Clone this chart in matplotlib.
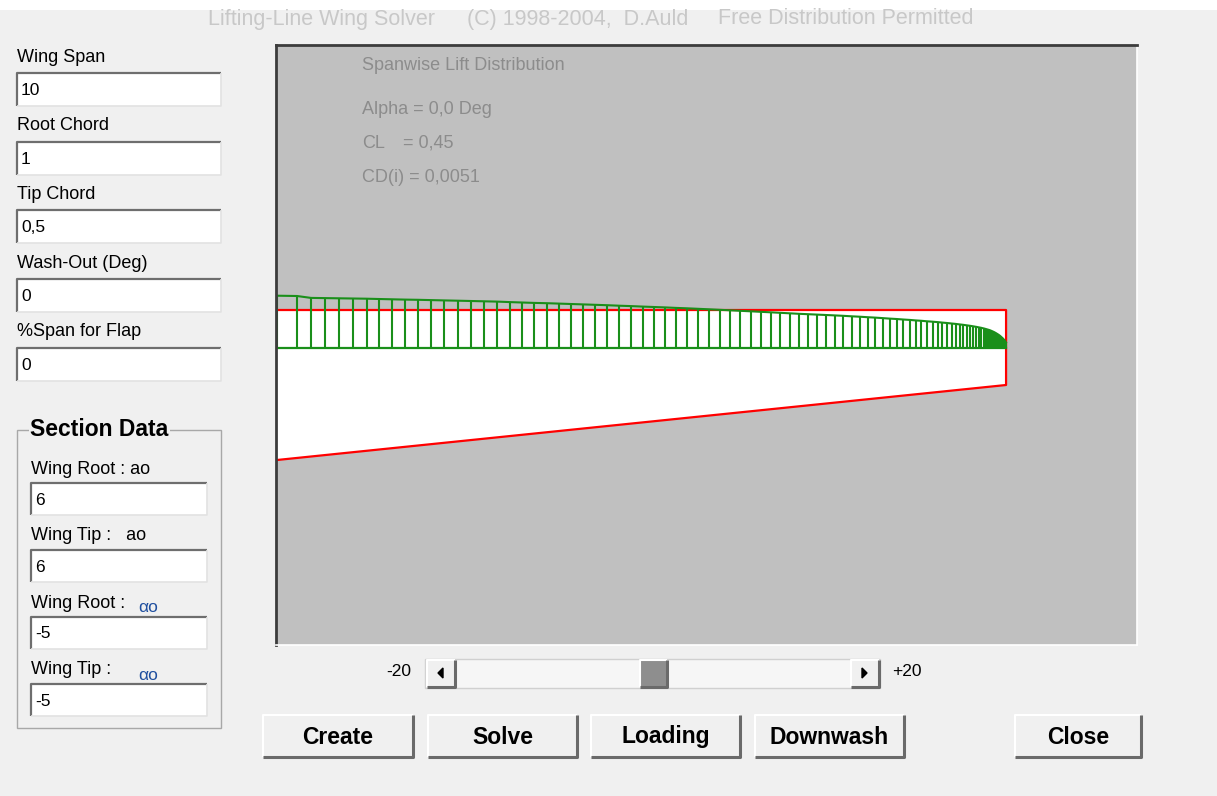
import numpy as np
import matplotlib.pyplot as plt
from matplotlib.patches import Rectangle, Polygon

plt.rcParams['font.family'] = ['Liberation Sans', 'DejaVu Sans']

W, H = 1217, 796  # window size in pixels

# =============================================================================
# DATA
# =============================================================================
half_span = 5.0      # m (wing span 10)
root_chord = 1.0
tip_chord = 0.5

# spanwise stations, m from root
stations = [0.000, 0.137, 0.233, 0.329, 0.425, 0.521, 0.614, 0.700, 0.789, 0.878,
            0.967, 1.056, 1.145, 1.241, 1.331, 1.420, 1.509, 1.598, 1.680, 1.763,
            1.852, 1.934, 2.016, 2.099, 2.181, 2.263, 2.346, 2.428, 2.510, 2.586,
            2.661, 2.737, 2.812, 2.888, 2.963, 3.035, 3.107, 3.176, 3.248, 3.316,
            3.385, 3.450, 3.515, 3.580, 3.642, 3.704, 3.765, 3.824, 3.882, 3.940,
            3.995, 4.050, 4.101, 4.153, 4.201, 4.249, 4.294, 4.338, 4.379, 4.420,
            4.458, 4.496, 4.530, 4.564, 4.595, 4.626, 4.654, 4.681, 4.705, 4.729,
            4.753, 4.774, 4.794, 4.811, 4.829, 4.846, 4.859, 4.873, 4.887, 4.897,
            4.908, 4.918, 4.928, 4.938, 4.949, 4.959, 4.969, 4.979, 4.990, 5.000]

# section lift at each station (display units)
lift = [51.8, 51.5, 49.6, 49.4, 49.2, 49.0, 48.8, 48.5, 48.2, 47.9,
        47.7, 47.4, 47.1, 46.8, 46.5, 46.2, 45.9, 45.4, 45.0, 44.6,
        44.3, 43.9, 43.5, 43.1, 42.7, 42.3, 41.8, 41.4, 40.9, 40.5,
        40.1, 39.6, 39.2, 38.7, 38.2, 37.7, 37.2, 36.7, 36.2, 35.7,
        35.2, 34.7, 34.2, 33.7, 33.3, 32.9, 32.5, 32.1, 31.7, 31.2,
        30.8, 30.3, 29.9, 29.4, 28.9, 28.5, 28.0, 27.6, 27.1, 26.7,
        26.2, 25.8, 25.4, 24.9, 24.5, 24.0, 23.6, 23.1, 22.7, 22.2,
        21.7, 21.2, 20.7, 20.2, 19.7, 19.1, 18.6, 18.0, 17.4, 16.8,
        16.1, 15.4, 14.6, 13.7, 12.7, 11.6, 10.3, 8.9, 7.2, 5.0]

info_lines = ["Alpha = 0,0 Deg", "CL", "CD(i) = 0,0051"]
cl_value = "= 0,45"

field_labels = ["Wing Span", "Root Chord", "Tip Chord", "Wash-Out (Deg)", "%Span for Flap"]
field_values = ["10", "1", "0,5", "0", "0"]
section_labels = ["Wing Root : ao", "Wing Tip :   ao", "Wing Root :", "Wing Tip :"]
section_values = ["6", "6", "-5", "-5"]
button_labels = ["Create", "Solve", "Loading", "Downwash", "Close"]

lift_scale = 1.0 / 150.0          # chord units per lift unit
baseline = 0.25 * root_chord      # lift drawn from root quarter chord

# =============================================================================
# FIGURE
# =============================================================================
fig = plt.figure(figsize=(W / 100, H / 100), dpi=100, facecolor='#f0f0f0')

ui = fig.add_axes([0, 0, 1, 1], zorder=0)
ui.set_facecolor('none')
ui.axis('off')


def ftext(x, y, s, **kw):
    kw.setdefault('va', 'center')
    kw.setdefault('fontsize', 13)
    return fig.text(x / W, 1 - y / H, s, **kw)


def edit_box(x0, y0, x1, y1, value):
    ui.add_patch(Rectangle((x0, y0), x1 - x0, y1 - y0, facecolor='white', edgecolor='none'))
    ui.plot([x0, x0, x1], [y1, y0, y0], color='#6e6e6e', lw=1.6, solid_capstyle='butt')
    ui.plot([x0, x1, x1], [y1, y1, y0], color='#e2e2e2', lw=1.2, solid_capstyle='butt')
    ftext(x0 + 4, (y0 + y1) / 2 + 1, value, fontsize=12.5)


def raised(x0, y0, x1, y1, face='#f0f0f0'):
    ui.add_patch(Rectangle((x0, y0), x1 - x0, y1 - y0, facecolor=face, edgecolor='none'))
    ui.plot([x0, x0, x1], [y1, y0, y0], color='white', lw=1.5, solid_capstyle='butt')
    ui.plot([x0, x1, x1], [y1, y1, y0], color='#6a6a6a', lw=2.2, solid_capstyle='butt')


# title strip
ui.add_patch(Rectangle((0, 0), W, 10, facecolor='white', edgecolor='none'))
ftext(208, 19, "Lifting-Line Wing Solver", color='#c8c8c8', fontsize=15.5)
ftext(467, 19, "(C) 1998-2004,  D.Auld", color='#c8c8c8', fontsize=15.5)
ftext(718, 19, "Free Distribution Permitted", color='#c8c8c8', fontsize=15.5)

# wing input fields
for i, (lab, val) in enumerate(zip(field_labels, field_values)):
    y = 57 + 68.7 * i
    ftext(17, y, lab)
    edit_box(17, y + 16, 221, y + 49, val)

# section data group
ui.add_patch(Rectangle((17, 430), 204, 298, facecolor='none', edgecolor='#a8a8a8', lw=1))
ftext(30, 430, "Section Data", fontweight='bold', fontsize=16.5,
      bbox=dict(facecolor='#f0f0f0', edgecolor='none', pad=1))
for i, (lab, val) in enumerate(zip(section_labels, section_values)):
    y = 469 + 67 * i
    ftext(31, y, lab)
    if i >= 2:
        ftext(138, y + 5, "\u03b1o", color='#1f4f9f', fontsize=12.5)
    edit_box(31, y + 14, 207, y + 46, val)

# slider
ftext(411, 672, "-20", ha='right', fontsize=12.5)
ftext(892, 672, "+20", ha='left', fontsize=12.5)
ui.add_patch(Rectangle((425, 659), 455, 29, facecolor='#f6f6f6', edgecolor='#d0d0d0', lw=1))
raised(427, 660, 455, 687)
raised(851, 660, 879, 687)
raised(640, 660, 667, 687, face='#8e8e8e')
ui.add_patch(Polygon([(438, 673), (443, 668), (443, 678)], closed=True, color='black'))
ui.add_patch(Polygon([(867, 673), (862, 668), (862, 678)], closed=True, color='black'))

# buttons
button_x = [(263, 413), (428, 577), (591, 740), (755, 904), (1015, 1141)]
for lab, (x0, x1) in zip(button_labels, button_x):
    raised(x0, 715, x1, 757)
    ftext((x0 + x1) / 2, 737, lab, ha='center', fontweight='bold', fontsize=16.5)

ui.set_xlim(0, W)
ui.set_ylim(H, 0)

# =============================================================================
# PLOT PANEL
# =============================================================================
ax = fig.add_axes([276 / W, 1 - 645 / H, (1137 - 276) / W, 600 / H], zorder=1)
ax.set_facecolor('#c0c0c0')
ax.set_xlim(-0.007, 5.898)
ax.set_ylim(2.2333, -1.7667)
ax.set_xticks([])
ax.set_yticks([])
for side, col, lw in [('left', '#3c3c3c', 2.0), ('top', '#3c3c3c', 2.0),
                      ('right', 'white', 1.2), ('bottom', 'white', 1.2)]:
    ax.spines[side].set_color(col)
    ax.spines[side].set_linewidth(lw)

# wing planform
planform = [(0, 0), (half_span, 0), (half_span, tip_chord), (0, root_chord)]
ax.add_patch(Polygon(planform, closed=True, facecolor='white', edgecolor='none'))
ax.plot([0, half_span, half_span, 0], [0, 0, tip_chord, root_chord], color='#ff0000', lw=1.6)

# spanwise lift distribution
green = '#1a8f1a'
st = np.array(stations)
top = baseline - np.array(lift) * lift_scale
ax.vlines(st, top, baseline, color=green, lw=1.5)
ax.plot(st, top, color=green, lw=1.5)
ax.plot([0, half_span], [baseline, baseline], color=green, lw=1.6)

# panel annotations
grey = '#8c8c8c'
ftext(362, 66, "Spanwise Lift Distribution", color=grey)
ftext(362, 109, info_lines[0], color=grey)
ftext(362, 143, info_lines[1], color=grey)
ftext(403, 143, cl_value, color=grey)
ftext(362, 177, info_lines[2], color=grey)

fig.savefig('out.png', dpi=100, facecolor=fig.get_facecolor())
